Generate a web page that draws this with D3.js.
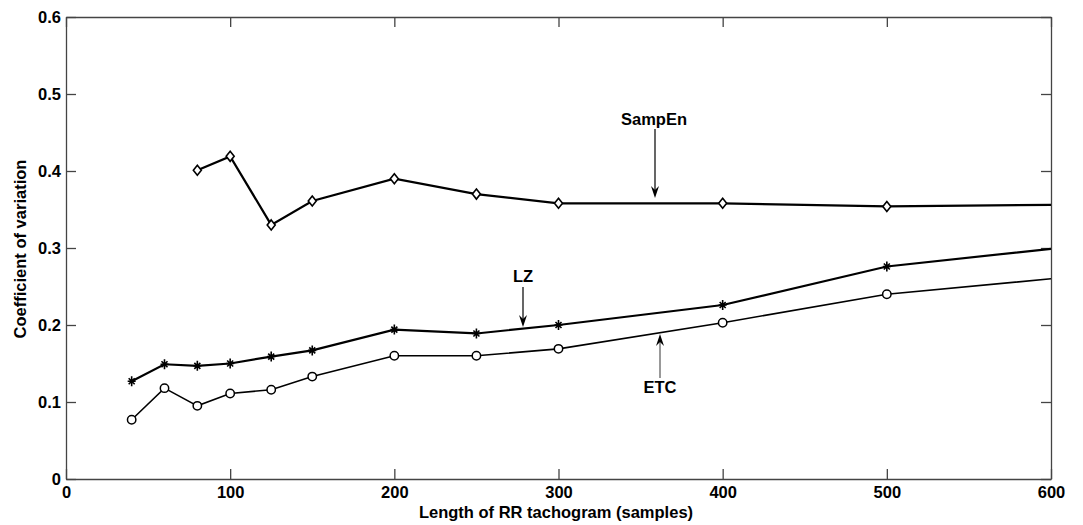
<!DOCTYPE html>
<html>
<head>
<meta charset="utf-8">
<script src="https://cdn.jsdelivr.net/npm/d3@7"></script>
<style>
  body { margin: 0; background: #fff; }
  text { font-family: "Liberation Sans", Arial, sans-serif; fill: #000; font-weight: bold; }
</style>
</head>
<body>
<script>
// x values (length of RR tachogram)
var lengthsSampEn = [80, 100, 125, 150, 200, 250, 300, 400, 500, 600];
var sampEn        = [0.401, 0.419, 0.330, 0.361, 0.390, 0.370, 0.358, 0.358, 0.354, 0.356];

var lengths = [40, 60, 80, 100, 125, 150, 200, 250, 300, 400, 500, 600];
var lz      = [0.127, 0.149, 0.147, 0.150, 0.159, 0.167, 0.194, 0.189, 0.200, 0.226, 0.276, 0.299];
var etc     = [0.077, 0.118, 0.095, 0.111, 0.116, 0.133, 0.160, 0.160, 0.169, 0.203, 0.240, 0.260];

var xTicks = [0, 100, 200, 300, 400, 500, 600];
var yTicks = [0, 0.1, 0.2, 0.3, 0.4, 0.5, 0.6];

var W = 1083, H = 525;
var mLeft = 66, mRight = 1051, mTop = 17, mBottom = 479;

var svg = d3.select("body").append("svg").attr("width", W).attr("height", H);

var x = d3.scaleLinear().domain([0, 600]).range([mLeft, mRight]);
var y = d3.scaleLinear().domain([0, 0.6]).range([mBottom, mTop]);

//frame + inward ticks on all four sides
var axisColor = "#444";
svg.append("g").attr("transform", "translate(0," + mBottom + ")")
   .call(d3.axisBottom(x).tickValues(xTicks).tickSizeInner(-10).tickSizeOuter(0).tickPadding(7).tickFormat(d3.format("d")));
svg.append("g").attr("transform", "translate(0," + mTop + ")")
   .call(d3.axisTop(x).tickValues(xTicks).tickSizeInner(-10).tickSizeOuter(0).tickFormat(""));
svg.append("g").attr("transform", "translate(" + mLeft + ",0)")
   .call(d3.axisLeft(y).tickValues(yTicks).tickSizeInner(-10).tickSizeOuter(0).tickPadding(5).tickFormat(d => d === 0 ? "0" : d3.format(".1f")(d)));
svg.append("g").attr("transform", "translate(" + mRight + ",0)")
   .call(d3.axisRight(y).tickValues(yTicks).tickSizeInner(-10).tickSizeOuter(0).tickFormat(""));

svg.selectAll(".domain").attr("stroke", axisColor).attr("stroke-width", 1.3);
svg.selectAll(".tick line").attr("stroke", axisColor).attr("stroke-width", 1.3);
svg.selectAll(".tick text").style("font-size", "16.5px").attr("fill", "#000");

svg.append("text").attr("x", 556).attr("y", 518).attr("text-anchor", "middle")
   .style("font-size", "16.5px").text("Length of RR tachogram (samples)");
svg.append("text").attr("transform", "translate(26,249) rotate(-90)").attr("text-anchor", "middle")
   .style("font-size", "16.5px").text("Coefficient of variation");

svg.append("clipPath").attr("id", "plotclip").append("rect")
   .attr("x", mLeft).attr("y", mTop).attr("width", mRight - mLeft).attr("height", mBottom - mTop);

var plot = svg.append("g").attr("clip-path", "url(#plotclip)");

function drawSeries(xs, ys, width, marker) {
  var pts = xs.map(function(d, i) { return [d, ys[i]]; });
  var line = d3.line().x(d => x(d[0])).y(d => y(d[1]));
  plot.append("path").attr("fill", "none").attr("stroke", "#000")
      .attr("stroke-width", width).attr("d", line(pts));
  var g = plot.append("g");
  // no marker on the right frame edge
  pts.filter(d => d[0] < 600).forEach(function(d) {
    var cx = x(d[0]), cy = y(d[1]);
    if (marker === "diamond") {
      g.append("path").attr("d", "M" + cx + "," + (cy - 5) + "L" + (cx + 4) + "," + cy + "L" + cx + "," + (cy + 5) + "L" + (cx - 4) + "," + cy + "Z")
       .attr("fill", "#fff").attr("stroke", "#000").attr("stroke-width", 1.6);
    } else if (marker === "circle") {
      g.append("circle").attr("cx", cx).attr("cy", cy).attr("r", 4.2)
       .attr("fill", "#fff").attr("stroke", "#000").attr("stroke-width", 1.5);
    } else {
      g.append("path").attr("d", "M" + (cx - 4) + "," + cy + "H" + (cx + 4) + "M" + cx + "," + (cy - 5) + "V" + (cy + 5) +
          "M" + (cx - 3) + "," + (cy - 3) + "L" + (cx + 3) + "," + (cy + 3) + "M" + (cx - 3) + "," + (cy + 3) + "L" + (cx + 3) + "," + (cy - 3))
       .attr("stroke", "#000").attr("stroke-width", 1.6);
    }
  });
}

drawSeries(lengthsSampEn, sampEn, 2.2, "diamond");
drawSeries(lengths, lz, 2.2, "star");
drawSeries(lengths, etc, 1.6, "circle");

// annotations with arrows
var notes = [
  {label: "SampEn", tx: 654, ty: 125, x1: 655, y1: 129, x2: 655, y2: 198, color: "#000"},
  {label: "LZ",     tx: 523, ty: 282, x1: 523, y1: 287, x2: 523, y2: 327, color: "#000"},
  {label: "ETC",    tx: 660, ty: 393, x1: 660, y1: 378, x2: 660, y2: 334, color: "#555"}
];
notes.forEach(function(n) {
  svg.append("text").attr("x", n.tx).attr("y", n.ty).attr("text-anchor", "middle")
     .style("font-size", "16.5px").text(n.label);
  var dir = n.y2 > n.y1 ? 1 : -1;
  svg.append("line").attr("x1", n.x1).attr("y1", n.y1).attr("x2", n.x2).attr("y2", n.y2 - dir * 8)
     .attr("stroke", n.color).attr("stroke-width", 1.2);
  svg.append("path").attr("d", "M" + (n.x2 - 4) + "," + (n.y2 - dir * 12) + "L" + n.x2 + "," + n.y2 + "L" + (n.x2 + 4) + "," + (n.y2 - dir * 12) + "L" + n.x2 + "," + (n.y2 - dir * 8) + "Z")
     .attr("fill", "#000");
});
</script>
</body>
</html>
